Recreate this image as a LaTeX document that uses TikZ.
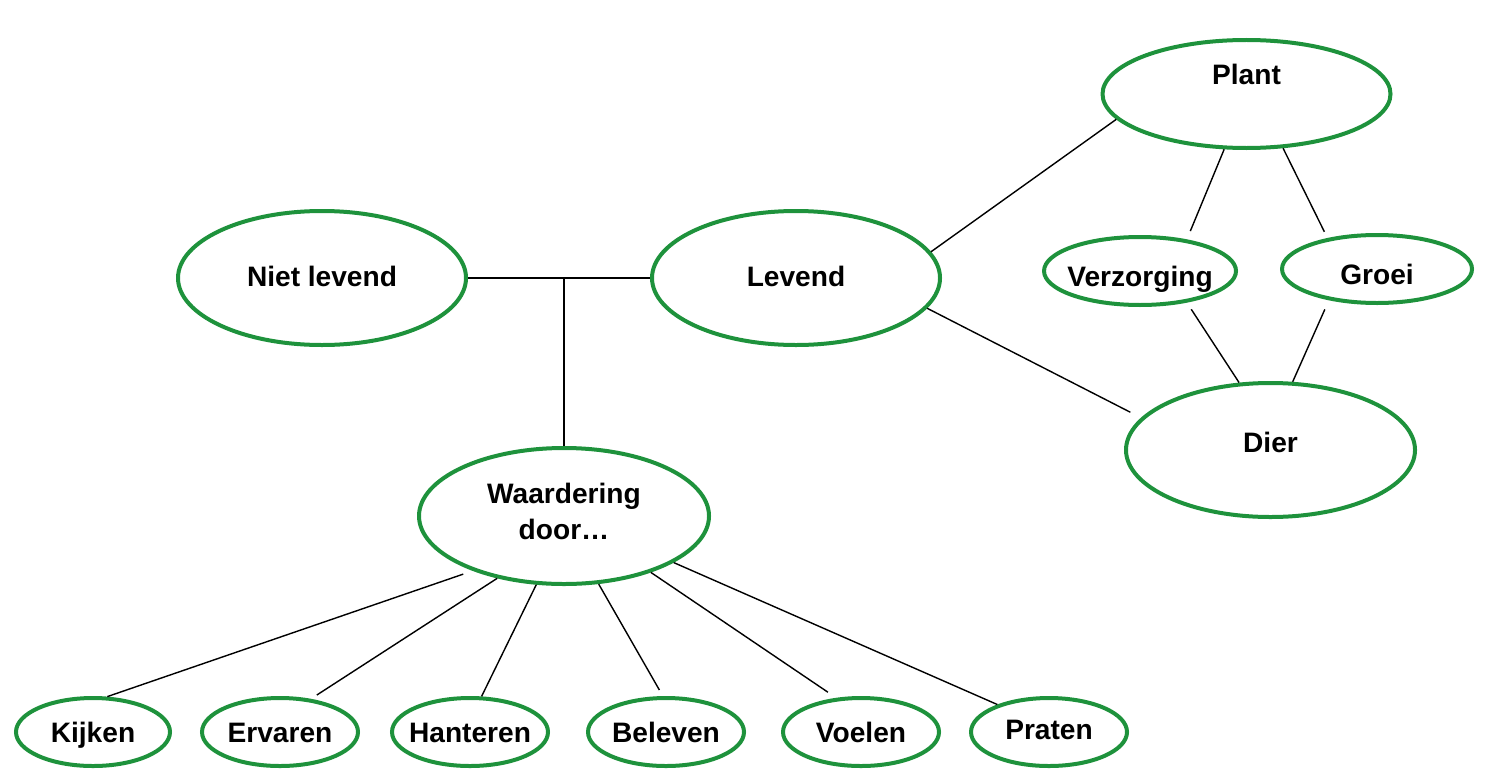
\documentclass[tikz,border=0pt]{standalone}
\usepackage{fontspec}
\setmainfont{Liberation Sans}
\usetikzlibrary{shapes.geometric}
\definecolor{leafgreen}{RGB}{30,146,60}

\begin{document}
\begin{tikzpicture}[
  bubble/.style={ellipse, draw=leafgreen, line width=0.04cm, inner sep=0pt,
    text height=0.25cm, text depth=0.05cm,
    font=\fontsize{8}{10.2}\selectfont\bfseries},
  bigoval/.style={bubble, minimum width=2.88cm, minimum height=1.34cm},
  smalloval/.style={bubble, minimum width=1.56cm, minimum height=0.68cm},
  link/.style={black, line width=0.4pt}]
  \useasboundingbox (0,0) rectangle (14.85,7.73);

  \node[bigoval] (niet) at (3.22,4.95) [text height=0.23cm, text depth=0.07cm] {Niet levend};
  \node[bigoval] (levend) at (7.96,4.95) [text height=0.23cm, text depth=0.07cm] {Levend};
  \node[bigoval, minimum height=1.08cm] (plant) at (12.465,6.79) [text height=0.06cm, text depth=0.24cm] {Plant};
  \node[smalloval, minimum width=1.92cm] (verz) at (11.40,5.02) [text height=0.30cm, text depth=0cm] {\makebox[0pt]{Verzorging}};
  \node[smalloval, minimum width=1.90cm] (groei) at (13.77,5.04) [text height=0.30cm, text depth=0cm] {Groei};
  \node[bigoval, minimum width=2.89cm] (dier) at (12.705,3.23) [text height=0.17cm, text depth=0.13cm] {Dier};
  \node[bigoval, minimum width=2.90cm, minimum height=1.36cm, align=center,
    text height=, text depth=] (waard) at (5.64,2.57) {Waardering\\door…\rule[-0.09cm]{0pt}{0pt}};

  \node[smalloval, minimum width=1.54cm] (kijken) at (0.93,0.41) {Kijken};
  \node[smalloval] (ervaren) at (2.80,0.41) {Ervaren};
  \node[smalloval] (hanteren) at (4.70,0.41) {\makebox[0pt]{Hanteren}};
  \node[smalloval] (beleven) at (6.66,0.41) {Beleven};
  \node[smalloval] (voelen) at (8.61,0.41) {Voelen};
  \node[smalloval] (praten) at (10.49,0.41) [text height=0.22cm, text depth=0.08cm] {Praten};

  % middle part
  \draw[link] (niet) -- (levend);
  \draw[link] (waard) -- (waard |- niet);
  \draw[link] (levend.11.5) -- (plant.191.5);
  \draw[link, shorten >=0.12cm] (levend.-13) -- (dier.166);

  % plant and dier
  \draw[link, shorten >=0.09cm] (plant.248.7) -- (verz.34);
  \draw[link, shorten >=0.07cm] (plant.-56) -- (groei.148.6);
  \draw[link, shorten <=0.08cm] (verz.-34.6) -- (dier.115);
  \draw[link, shorten <=0.1cm] (groei.213) -- (dier.72);

  % waardering door
  \draw[link, shorten <=0.1cm] (waard.211.7) -- (kijken.68);
  \draw[link, shorten >=0.07cm] (waard.223.7) -- (ervaren.47.4);
  \draw[link] (waard.248) -- (hanteren.72);
  \draw[link, shorten >=0.07cm] (waard.297) -- (beleven.95);
  \draw[link, shorten >=0.1cm] (waard.327.5) -- (voelen.126);
  \draw[link] (waard.337) -- (praten.152);
\end{tikzpicture}
\end{document}
